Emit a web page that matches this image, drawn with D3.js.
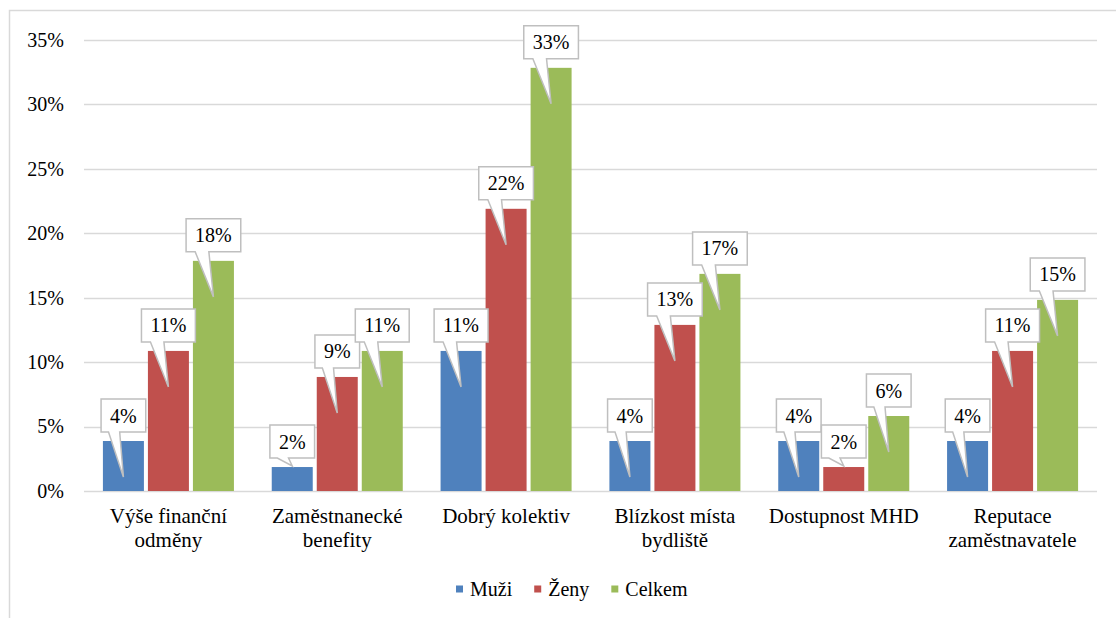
<!DOCTYPE html>
<html>
<head>
<meta charset="utf-8">
<script src="https://cdn.jsdelivr.net/npm/d3@7"></script>
</head>
<body style="margin:0">
<svg id="chart" width="1116" height="618"></svg>
<script>
// ---- data ----
const categories = [
  ["Výše finanční", "odměny"],
  ["Zaměstnanecké", "benefity"],
  ["Dobrý kolektiv"],
  ["Blízkost místa", "bydliště"],
  ["Dostupnost MHD"],
  ["Reputace", "zaměstnavatele"]
];
const seriesNames = ["Muži", "Ženy", "Celkem"];
const muzi   = [0.0388, 0.0186, 0.1087, 0.0388, 0.0388, 0.0388];
const zeny   = [0.1087, 0.0885, 0.2190, 0.1289, 0.0186, 0.1087];
const celkem = [0.1786, 0.1087, 0.3284, 0.1685, 0.0582, 0.1483];
const tickValues = [0, 0.05, 0.10, 0.15, 0.20, 0.25, 0.30, 0.35];
const colors = ["#4f81bd", "#c0504d", "#9bbb59"];

const FONT = "Liberation Serif";
const seriesValues = [muzi, zeny, celkem];
const catKeys = categories.map(c => c.join(" "));

const svg = d3.select("#chart");
const plot = { left: 84, right: 1097, top: 40, bottom: 491 };

function styleText(sel, size) {
  return sel.style("font-family", FONT).attr("font-size", size).attr("fill", "#000");
}

// frame
svg.append("rect")
  .attr("x", 9.5).attr("y", 10.5)
  .attr("width", 1200).attr("height", 700)
  .attr("fill", "#fff").attr("stroke", "#d9d9d9").attr("stroke-width", 1.5);

const x0 = d3.scaleBand().domain(catKeys)
  .range([plot.left, plot.right]).paddingInner(0.224).paddingOuter(0.112);
const x1 = d3.scaleBand().domain(seriesNames)
  .range([0, x0.bandwidth()]).paddingInner(0.089).paddingOuter(0);
const y = d3.scaleLinear().domain([0, 0.35]).range([plot.bottom, plot.top]);

// gridlines
svg.selectAll("line.grid").data(tickValues).join("line").attr("class", "grid")
  .attr("x1", plot.left).attr("x2", plot.right)
  .attr("y1", d => Math.round(y(d)) + 0.5).attr("y2", d => Math.round(y(d)) + 0.5)
  .attr("stroke", "#d9d9d9").attr("stroke-width", 1.5);

// y axis labels
const yAxis = d3.axisLeft(y).tickValues(tickValues).tickFormat(d3.format(".0%")).tickSize(0).tickPadding(20);
const gy = svg.append("g").attr("transform", `translate(${plot.left},0)`).call(yAxis);
gy.attr("font-family", FONT).attr("font-size", 20);
gy.select(".domain").remove();
styleText(gy.selectAll("text"), 20);

// bars
const data = [];
catKeys.forEach((c, i) => {
  seriesNames.forEach((s, j) => {
    data.push({ cat: c, s, j, v: seriesValues[j][i] });
  });
});

svg.selectAll("rect.bar").data(data).join("rect").attr("class", "bar")
  .attr("x", d => x0(d.cat) + x1(d.s))
  .attr("y", d => y(d.v))
  .attr("width", x1.bandwidth())
  .attr("height", d => y(0) - y(d.v))
  .attr("fill", d => colors[d.j]);

// callouts
const fmt = d3.format(".0%");
data.forEach(d => {
  const cx = x0(d.cat) + x1(d.s) + x1.bandwidth() / 2;
  const top = y(d.v);
  const barH = y(0) - top;
  const path = svg.append("path");
  const t = styleText(svg.append("text"), 20)
    .attr("x", cx).attr("text-anchor", "middle").text(fmt(d.v));
  const tw = t.node().getComputedTextLength();
  const w = tw + 18, h = 33;
  const b = top - 9, tY = b - h;
  const l = cx - w / 2, r = cx + w / 2;
  const tipY = barH > 45 ? top + 36 : top - 1;
  const xa = l + w * 2 / 12, xb = l + w * 5 / 12;
  path.attr("d", `M${l},${tY} L${r},${tY} L${r},${b} L${xb},${b} L${cx},${tipY} L${xa},${b} L${l},${b} Z`)
    .attr("fill", "#fff").attr("stroke", "#bfbfbf").attr("stroke-width", 1.5);
  t.attr("y", tY + h / 2).attr("dy", "0.35em");
});

// category labels
categories.forEach((lines, i) => {
  const cx = x0(catKeys[i]) + x0.bandwidth() / 2;
  lines.forEach((ln, k) => {
    styleText(svg.append("text"), 21)
      .attr("text-anchor", "middle")
      .attr("x", cx).attr("y", 523 + k * 24).text(ln);
  });
});

// legend
let lx = 456;
seriesNames.forEach((s, j) => {
  svg.append("rect").attr("x", lx).attr("y", 585.5).attr("width", 7).attr("height", 7).attr("fill", colors[j]);
  const t = styleText(svg.append("text"), 20)
    .attr("x", lx + 14).attr("y", 589).attr("dy", "0.35em").text(s);
  lx += 14 + t.node().getComputedTextLength() + 22;
});
</script>
</body>
</html>
